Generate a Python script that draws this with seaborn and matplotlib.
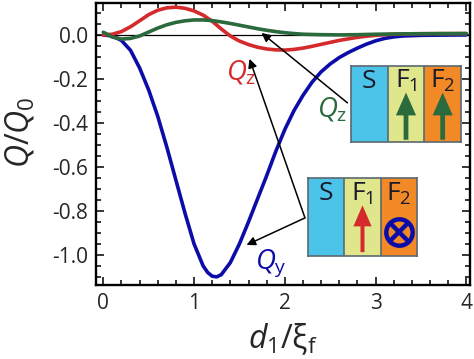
import matplotlib
matplotlib.use("Agg")
import matplotlib.pyplot as plt
from matplotlib.patches import FancyArrow
from matplotlib.ticker import MultipleLocator
import pandas as pd
import seaborn as sns

# S/F1/F2 with perpendicular magnetisations: Q_y (blue) and Q_z (red)
d_qy = [0, 0.1, 0.2, 0.3, 0.4, 0.5, 0.6, 0.7, 0.8, 0.9, 1.0, 1.1, 1.15, 1.2, 1.25,
        1.3, 1.4, 1.5, 1.6, 1.7, 1.8, 1.9, 2.0, 2.1, 2.2, 2.3, 2.4, 2.5, 2.6, 2.7,
        2.8, 2.9, 3.0, 3.1, 3.2, 3.3, 3.5, 3.7, 4.0]
qy_perp = [0.0, -0.005, -0.025, -0.07, -0.15, -0.25, -0.37, -0.51, -0.66, -0.81,
           -0.95, -1.05, -1.08, -1.097, -1.10, -1.09, -1.035, -0.95, -0.85, -0.745,
           -0.64, -0.53, -0.43, -0.345, -0.275, -0.215, -0.168, -0.132, -0.103,
           -0.08, -0.06, -0.042, -0.027, -0.016, -0.009, -0.005, -0.002, -0.001, 0.0]

d_qz = [0, 0.1, 0.2, 0.3, 0.4, 0.5, 0.6, 0.7, 0.8, 0.9, 1.0, 1.1, 1.2, 1.3, 1.4,
        1.5, 1.6, 1.7, 1.8, 1.9, 2.0, 2.1, 2.2, 2.3, 2.4, 2.5, 2.6, 2.7, 2.8, 2.9,
        3.0, 3.1, 3.2, 3.4, 3.7, 4.0]
qz_perp = [0.0, 0.003, 0.015, 0.037, 0.064, 0.092, 0.112, 0.123, 0.126, 0.121,
           0.109, 0.09, 0.062, 0.027, -0.005, -0.028, -0.044, -0.056, -0.064,
           -0.068, -0.069, -0.066, -0.06, -0.052, -0.043, -0.034, -0.025, -0.018,
           -0.011, -0.006, -0.002, 0.001, 0.003, 0.005, 0.006, 0.006]

# parallel magnetisations: Q_z (green)
d_par = [0, 0.05, 0.1, 0.2, 0.3, 0.4, 0.5, 0.6, 0.7, 0.8, 0.9, 1.0, 1.1, 1.2, 1.3,
         1.4, 1.5, 1.6, 1.7, 1.8, 1.9, 2.0, 2.1, 2.2, 2.4, 2.6, 2.8, 3.0, 3.4, 4.0]
qz_par = [0.012, 0.002, -0.01, -0.019, -0.016, -0.005, 0.013, 0.031, 0.046, 0.057,
          0.064, 0.068, 0.068, 0.065, 0.059, 0.052, 0.044, 0.036, 0.028, 0.021,
          0.015, 0.01, 0.006, 0.003, 0.001, 0.0, 0.001, 0.003, 0.005, 0.006]

series_order = ["Qy_perp", "Qz_perp", "Qz_par"]
series_colors = {"Qy_perp": "#0c0ca8", "Qz_perp": "#d52a2c", "Qz_par": "#2b6a3d"}
layer_names = ["S", r"F$_\mathrm{1}$", r"F$_\mathrm{2}$"]
layer_colors = ["#4cc3e9", "#e0e68c", "#f18a26"]
x_ticks = [0, 1, 2, 3, 4]
y_ticks = [0.0, -0.2, -0.4, -0.6, -0.8, -1.0]

sns.set_style("ticks")
plt.rcParams["font.family"] = ["Open Sans", "DejaVu Sans"]
plt.rcParams["mathtext.fontset"] = "custom"
plt.rcParams["mathtext.rm"] = "Open Sans"
plt.rcParams["mathtext.it"] = "Open Sans:italic"
plt.rcParams["axes.unicode_minus"] = False

df = pd.concat([
    pd.DataFrame({"d": d_qy, "Q": qy_perp, "series": "Qy_perp"}),
    pd.DataFrame({"d": d_qz, "Q": qz_perp, "series": "Qz_perp"}),
    pd.DataFrame({"d": d_par, "Q": qz_par, "series": "Qz_par"}),
])

fig = plt.figure(figsize=(4.74, 3.59), dpi=100)
ax = fig.add_axes([96 / 474, 74 / 359, 374 / 474, 282 / 359])

ax.axhline(0, color="black", lw=0.9, zorder=1)
sns.lineplot(data=df, x="d", y="Q", hue="series", hue_order=series_order,
             palette=series_colors, sort=False, estimator=None, lw=2.6,
             legend=False, ax=ax, zorder=2)

ax.set_xlim(-0.08, 4.04)
ax.set_ylim(-1.137, 0.145)
ax.set_xticks(x_ticks)
ax.set_yticks(y_ticks)
ax.set_yticklabels([f"{v:.1f}" for v in y_ticks])
ax.xaxis.set_minor_locator(MultipleLocator(0.2))
ax.yaxis.set_minor_locator(MultipleLocator(0.05))
ax.tick_params(which="both", direction="in", top=True, right=True, width=1.3,
               labelsize=15, pad=6)
ax.tick_params(which="major", length=6)
ax.tick_params(which="minor", length=3.5)
for s in ax.spines.values():
    s.set_linewidth(1.7)
    s.set_color("black")

ax.set_xlabel(r"$d_\mathrm{1}/\mathrm{\xi}_\mathrm{f}$", fontsize=23)
ax.set_ylabel(r"$Q/Q_\mathrm{0}$", fontsize=23)
ax.xaxis.set_label_coords(0.5, -0.13)
ax.yaxis.set_label_coords(-0.16, 0.54)

# curve labels
ax.text(1.52, -0.17, r"$Q_\mathrm{z}$", color=series_colors["Qz_perp"], fontsize=20,
        ha="center", va="center")
ax.text(2.52, -0.34, r"$Q_\mathrm{z}$", color=series_colors["Qz_par"], fontsize=20,
        ha="center", va="center")
ax.text(1.85, -1.04, r"$Q_\mathrm{y}$", color=series_colors["Qy_perp"], fontsize=20,
        ha="center", va="center")

arrow_kw = dict(arrowstyle="-|>", color="black", lw=1.1, mutation_scale=13,
                shrinkA=0, shrinkB=0)
ax.annotate("", xy=(1.744, 0.009), xytext=(2.69, -0.309), arrowprops=arrow_kw)
ax.annotate("", xy=(1.611, -0.109), xytext=(2.222, -0.832), arrowprops=arrow_kw)
ax.annotate("", xy=(1.578, -0.955), xytext=(2.222, -0.832), arrowprops=arrow_kw)


def draw_stack(rect, kind):
    ins = fig.add_axes(rect)
    ins.set_xlim(0, 3)
    ins.set_ylim(0, 1)
    ins.set_xticks([])
    ins.set_yticks([])
    for i, (name, col) in enumerate(zip(layer_names, layer_colors)):
        ins.axvspan(i, i + 1, color=col, lw=0)
        ins.text(i + 0.5, 0.8, name, fontsize=19, ha="center", va="center",
                 color="#1a1a2a")
    for xv in (1, 2):
        ins.axvline(xv, color="#5b6870", lw=1.2)
    for s in ins.spines.values():
        s.set_color("#5b6870")
        s.set_linewidth(1.2)
    if kind == "parallel":
        for xc in (1.5, 2.5):
            ins.add_patch(FancyArrow(xc, 0.03, 0, 0.62, width=0.13, head_width=0.55,
                                     head_length=0.3, length_includes_head=True,
                                     color=series_colors["Qz_par"], lw=0))
    else:
        ins.add_patch(FancyArrow(1.5, 0.05, 0, 0.6, width=0.11, head_width=0.5,
                                 head_length=0.27, length_includes_head=True,
                                 color=series_colors["Qz_perp"], lw=0))
        ins.plot([2.5], [0.31], marker="o", ms=19, mfc="none",
                 mec=series_colors["Qy_perp"], mew=3.2)
        ins.plot([2.5], [0.31], marker="x", ms=13,
                 mec=series_colors["Qy_perp"], mew=3.2)


draw_stack([351 / 474, 217 / 359, 110 / 474, 76 / 359], "parallel")
draw_stack([308 / 474, 103 / 359, 109 / 474, 78 / 359], "perp")

fig.savefig("out.png", dpi=100)
